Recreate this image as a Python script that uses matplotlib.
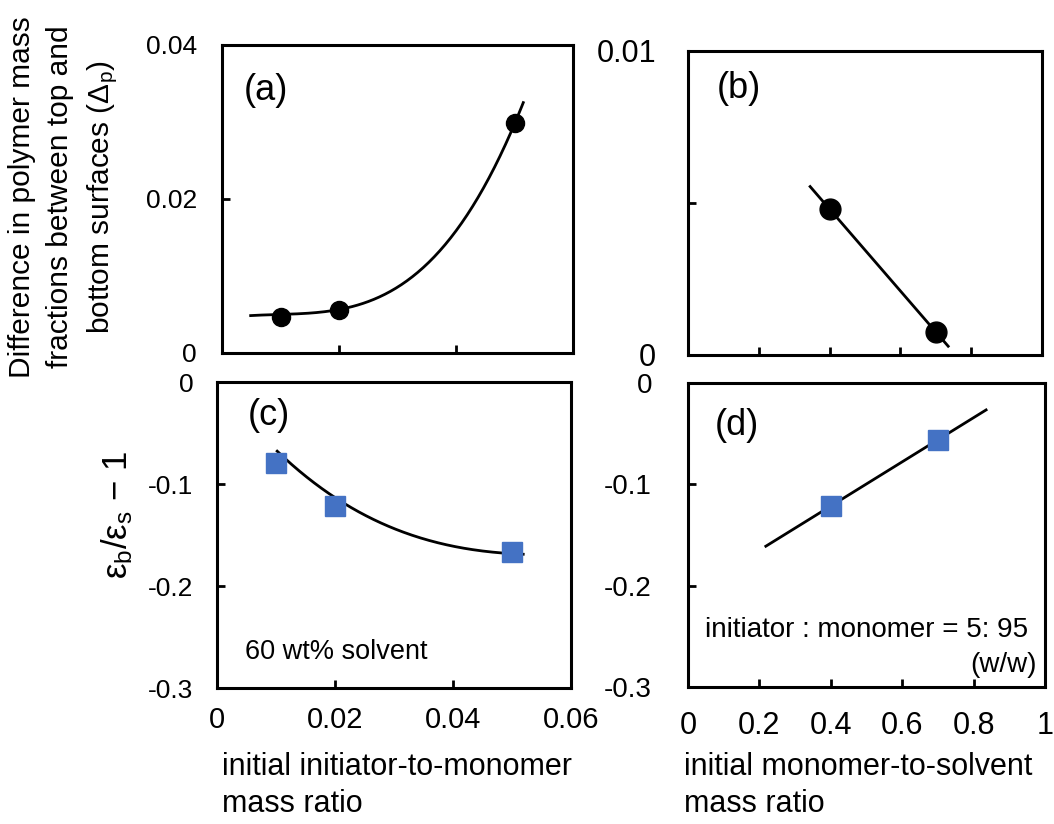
import numpy as np
import matplotlib
matplotlib.use("Agg")
import matplotlib.pyplot as plt

plt.rcParams['font.family'] = ['Liberation Sans', 'DejaVu Sans']
plt.rcParams['mathtext.fontset'] = 'custom'
plt.rcParams['mathtext.rm'] = 'Liberation Sans'
plt.rcParams['mathtext.it'] = 'Liberation Sans:italic'

# (a) polymer mass fraction difference vs initiator-to-monomer ratio
init_ratio = [0.01, 0.02, 0.05]
delta_a = [0.0047, 0.0056, 0.0299]
# points
curve_a_x = [0.0049, 0.0101, 0.0202, 0.0304, 0.0407, 0.0504, 0.0515]
curve_a_y = [0.00506, 0.0047, 0.0056, 0.0092, 0.0163, 0.0299, 0.0331]

# (b) polymer mass fraction difference vs monomer-to-solvent ratio
mono_ratio = [0.4, 0.7]
delta_b = [0.0048, 0.00076]
line_b_range = [0.345, 0.735]

# (c) permittivity ratio vs initiator-to-monomer ratio
eps_c = [-0.079, -0.1216, -0.1667]
curve_c_x = [0.0102, 0.0158, 0.0202, 0.0276, 0.0333, 0.0389, 0.0446, 0.0519]
curve_c_y = [-0.069, -0.094, -0.113, -0.140, -0.1516, -0.1588, -0.164, -0.1696]

# (d) permittivity ratio vs monomer-to-solvent ratio
eps_d = [-0.1214, -0.056]
line_d_range = [0.218, 0.835]

blue = '#4472C4'

fig = plt.figure(figsize=(10.54, 8.24), dpi=100)
W, H = 1054, 824


def box(l, t, r, b):
    return [l / W, 1 - b / H, (r - l) / W, (b - t) / H]


ax_a = fig.add_axes(box(222, 45, 573, 353))
ax_b = fig.add_axes(box(688, 51, 1042, 355))
ax_c = fig.add_axes(box(217, 382, 571, 688))
ax_d = fig.add_axes(box(688, 383, 1045, 687))

for ax in [ax_a, ax_b, ax_c, ax_d]:
    for s in ax.spines.values():
        s.set_linewidth(2.2)
    ax.tick_params(direction='in', length=6, width=2, labelsize=19)

# (a)
pa = np.polyfit(curve_a_x, curve_a_y, 3)
xa = np.linspace(curve_a_x[0], curve_a_x[-1], 200)
ax_a.plot(xa, np.polyval(pa, xa), color='black', lw=2)
ax_a.plot(init_ratio, delta_a, 'o', color='black', ms=13)
ax_a.set_xlim(0, 0.06)
ax_a.set_ylim(0, 0.04)
ax_a.set_xticks([0.02, 0.04])
ax_a.set_xticklabels([])
ax_a.set_yticks([0, 0.02, 0.04])
ax_a.set_yticklabels(['0', '0.02', '0.04'])
ax_a.tick_params(axis='y', pad=18)
ax_a.text(22 / 351, 1 - 28 / 308, '(a)', transform=ax_a.transAxes,
          fontsize=26, va='top', ha='left')

# (b)
pb = np.polyfit(mono_ratio, delta_b, 1)
ax_b.plot(line_b_range, np.polyval(pb, line_b_range), color='black', lw=2)
ax_b.plot(mono_ratio, delta_b, 'o', color='black', ms=15)
ax_b.set_xlim(0, 1)
ax_b.set_ylim(0, 0.01)
ax_b.set_xticks([0.2, 0.4, 0.6, 0.8])
ax_b.set_xticklabels([])
ax_b.set_yticks([0, 0.005, 0.01])
ax_b.set_yticklabels(['0', '', '0.01'])
ax_b.tick_params(axis='y', pad=23, labelsize=22)
ax_b.text(29 / 354, 1 - 20 / 304, '(b)', transform=ax_b.transAxes,
          fontsize=26, va='top', ha='left')

# (c)
pc = np.polyfit(curve_c_x, curve_c_y, 3)
xc = np.linspace(curve_c_x[0], curve_c_x[-1], 200)
ax_c.plot(xc, np.polyval(pc, xc), color='black', lw=2)
ax_c.plot(init_ratio, eps_c, 's', color=blue, ms=14)
ax_c.set_xlim(0, 0.06)
ax_c.set_ylim(-0.3, 0)
ax_c.set_xticks([0, 0.02, 0.04, 0.06])
ax_c.set_xticklabels(['0', '0.02', '0.04', '0.06'])
ax_c.set_yticks([-0.3, -0.2, -0.1, 0])
ax_c.set_yticklabels(['-0.3', '-0.2', '-0.1', '0'])
ax_c.tick_params(axis='y', pad=17)
ax_c.tick_params(axis='x', pad=13, labelsize=21)
ax_c.text(31 / 354, 1 - 16 / 306, '(c)', transform=ax_c.transAxes,
          fontsize=26, va='top', ha='left')
ax_c.text(28 / 354, 1 - 270 / 306, '60 wt% solvent', transform=ax_c.transAxes,
          fontsize=19.5, va='center', ha='left')

# (d)
pd_ = np.polyfit(mono_ratio, eps_d, 1)
ax_d.plot(line_d_range, np.polyval(pd_, line_d_range), color='black', lw=2)
ax_d.plot(mono_ratio, eps_d, 's', color=blue, ms=15)
ax_d.set_xlim(0, 1)
ax_d.set_ylim(-0.3, 0)
ax_d.set_xticks([0, 0.2, 0.4, 0.6, 0.8, 1])
ax_d.set_xticklabels(['0', '0.2', '0.4', '0.6', '0.8', '1'])
ax_d.set_yticks([-0.3, -0.2, -0.1, 0])
ax_d.set_yticklabels(['-0.3', '-0.2', '-0.1', '0'])
ax_d.tick_params(axis='y', pad=26, labelsize=20)
ax_d.tick_params(axis='x', pad=17, labelsize=22)
ax_d.text(27 / 357, 1 - 25 / 304, '(d)', transform=ax_d.transAxes,
          fontsize=26, va='top', ha='left')
ax_d.text(1 - 17 / 357, 1 - 247 / 304, 'initiator : monomer = 5: 95',
          transform=ax_d.transAxes, fontsize=20, va='center', ha='right')
ax_d.text(1 - 8 / 357, 1 - 282 / 304, '(w/w)', transform=ax_d.transAxes,
          fontsize=20, va='center', ha='right')

# axis titles
fig.text(64 / W, 1 - 197 / H,
         'Difference in polymer mass\nfractions between top and\nbottom surfaces ($\\Delta_\\mathrm{p}$)',
         rotation=90, ha='center', va='center', multialignment='center',
         fontsize=21.5, linespacing=1.45)
fig.text(117 / W, 1 - 515 / H, r'$\mathrm{\epsilon_b/\epsilon_s}$ $-$ 1',
         rotation=90, ha='center', va='center', fontsize=25)
fig.text(222 / W, 1 - 752 / H, 'initial initiator-to-monomer\nmass ratio',
         ha='left', va='top', fontsize=22, linespacing=1.3)
fig.text(684 / W, 1 - 752 / H, 'initial monomer-to-solvent\nmass ratio',
         ha='left', va='top', fontsize=22, linespacing=1.3)

fig.savefig('out.png', dpi=100)
